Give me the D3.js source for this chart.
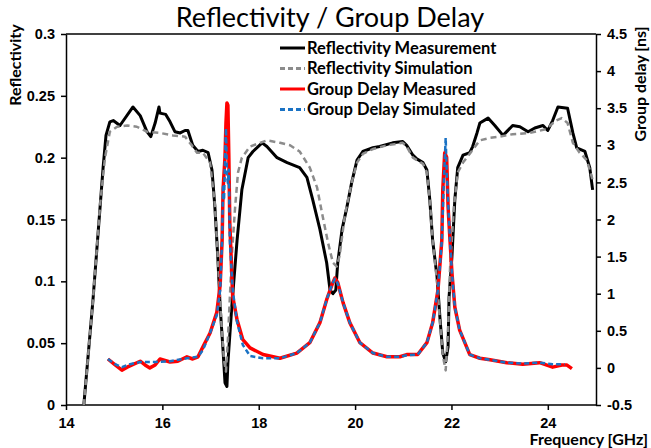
<!DOCTYPE html>
<html>
<head>
<meta charset="utf-8">
<script src="https://cdn.jsdelivr.net/npm/d3@7"></script>
<style>
  body { margin: 0; background: #fff; }
  svg { font-family: Lato, "Noto Sans", sans-serif; }
  .axis text { font-size: 14.5px; font-weight: bold; fill: #000; }
  .axis path, .axis line { stroke: #000; stroke-width: 1.5; }
</style>
</head>
<body>
<svg id="chart" width="651" height="448"></svg>
<script>
// reflectivity measurement [GHz, R]
const reflMeasured = [
  [14.37, 0], [14.56, 0.085], [14.77, 0.192], [14.83, 0.218], [14.91, 0.229], [14.98, 0.23],
  [15.12, 0.226], [15.39, 0.241], [15.54, 0.234], [15.68, 0.221], [15.76, 0.217], [15.85, 0.228],
  [15.93, 0.241], [15.95, 0.236], [16.07, 0.235], [16.16, 0.229], [16.26, 0.221], [16.37, 0.22],
  [16.47, 0.222], [16.53, 0.222], [16.63, 0.21], [16.74, 0.205], [16.84, 0.206], [16.95, 0.204],
  [17.03, 0.19], [17.09, 0.16], [17.15, 0.12], [17.2, 0.079], [17.26, 0.044], [17.3, 0.018],
  [17.34, 0.015], [17.36, 0.034], [17.44, 0.079], [17.55, 0.133], [17.65, 0.174], [17.78, 0.2],
  [17.88, 0.205], [18.07, 0.212], [18.17, 0.209], [18.38, 0.2], [18.59, 0.196], [18.85, 0.192],
  [19.0, 0.184], [19.12, 0.166], [19.27, 0.142], [19.41, 0.115], [19.48, 0.093], [19.54, 0.09],
  [19.6, 0.093], [19.64, 0.115], [19.73, 0.142], [19.83, 0.16], [19.93, 0.18], [20.04, 0.198],
  [20.16, 0.205], [20.37, 0.208], [20.51, 0.209], [20.78, 0.212], [20.99, 0.213], [21.07, 0.21],
  [21.2, 0.202], [21.28, 0.199], [21.41, 0.196], [21.49, 0.19], [21.55, 0.166], [21.61, 0.133],
  [21.7, 0.104], [21.76, 0.071], [21.82, 0.042], [21.88, 0.035], [21.93, 0.047], [21.95, 0.087],
  [22.01, 0.12], [22.07, 0.166], [22.13, 0.192], [22.24, 0.202], [22.38, 0.204], [22.44, 0.209],
  [22.53, 0.22], [22.59, 0.228], [22.76, 0.232], [22.9, 0.226], [23.07, 0.218], [23.27, 0.226],
  [23.42, 0.225], [23.59, 0.221], [23.73, 0.224], [23.9, 0.226], [24.0, 0.222], [24.1, 0.23],
  [24.21, 0.241], [24.41, 0.24], [24.52, 0.22], [24.6, 0.208], [24.77, 0.205], [24.87, 0.192],
  [24.93, 0.174]
];

// reflectivity simulation [GHz, R]
const reflSimulated = [
  [14.37, 0], [14.56, 0.085], [14.71, 0.163], [14.81, 0.2], [14.91, 0.221], [15.06, 0.225],
  [15.27, 0.226], [15.47, 0.225], [15.68, 0.221], [15.95, 0.22], [16.22, 0.218], [16.47, 0.217],
  [16.61, 0.21], [16.72, 0.204], [16.84, 0.204], [16.99, 0.196], [17.09, 0.162], [17.15, 0.12],
  [17.22, 0.069], [17.28, 0.036], [17.32, 0.027], [17.36, 0.053], [17.44, 0.12], [17.51, 0.16],
  [17.57, 0.188], [17.65, 0.2], [17.82, 0.209], [18.17, 0.214], [18.44, 0.212], [18.65, 0.21],
  [18.85, 0.205], [19.06, 0.192], [19.21, 0.176], [19.33, 0.152], [19.44, 0.131], [19.54, 0.115],
  [19.62, 0.112], [19.68, 0.121], [19.79, 0.154], [19.93, 0.18], [20.04, 0.196], [20.16, 0.203],
  [20.37, 0.207], [20.66, 0.21], [20.99, 0.212], [21.07, 0.209], [21.2, 0.2], [21.41, 0.195],
  [21.49, 0.188], [21.55, 0.166], [21.61, 0.133], [21.7, 0.1], [21.76, 0.068], [21.82, 0.04],
  [21.88, 0.028], [21.93, 0.06], [21.97, 0.11], [22.05, 0.16], [22.13, 0.188], [22.24, 0.196],
  [22.59, 0.214], [22.8, 0.216], [23.0, 0.217], [23.27, 0.219], [23.63, 0.22], [23.96, 0.223],
  [24.17, 0.23], [24.29, 0.232], [24.41, 0.228], [24.52, 0.212], [24.66, 0.204], [24.81, 0.198],
  [24.93, 0.182]
];

// group delay measured [GHz, ns]
const gdMeasured = [
  [14.87, 0.12], [15.02, 0.04], [15.16, -0.03], [15.27, 0.01], [15.54, 0.09], [15.64, 0.04],
  [15.74, 0.0], [15.85, 0.04], [15.95, 0.12], [16.16, 0.08], [16.32, 0.09], [16.51, 0.15],
  [16.63, 0.12], [16.74, 0.15], [16.84, 0.28], [16.99, 0.47], [17.13, 0.75], [17.2, 1.12],
  [17.24, 1.72], [17.26, 2.4], [17.3, 2.84], [17.32, 3.3], [17.34, 3.57], [17.36, 3.54],
  [17.38, 2.84], [17.4, 1.95], [17.44, 1.28], [17.46, 0.96], [17.55, 0.65], [17.67, 0.38],
  [17.82, 0.27], [18.09, 0.18], [18.44, 0.13], [18.79, 0.2], [19.06, 0.34], [19.27, 0.61],
  [19.41, 0.92], [19.52, 1.12], [19.58, 1.21], [19.64, 1.15], [19.75, 0.88], [19.89, 0.61],
  [20.1, 0.34], [20.37, 0.2], [20.66, 0.15], [20.93, 0.15], [21.07, 0.18], [21.3, 0.18],
  [21.49, 0.34], [21.61, 0.61], [21.72, 1.05], [21.8, 1.72], [21.82, 2.4], [21.86, 2.9],
  [21.9, 2.84], [21.93, 2.17], [21.97, 1.72], [22.01, 1.28], [22.07, 0.82], [22.17, 0.51],
  [22.38, 0.18], [22.59, 0.13], [22.8, 0.11], [23.15, 0.07], [23.48, 0.05], [23.83, 0.07],
  [24.1, 0.01], [24.29, 0.04], [24.39, 0.04], [24.5, -0.01]
];

// group delay simulated [GHz, ns]
const gdSimulated = [
  [14.87, 0.12], [15.02, 0.05], [15.16, 0.01], [15.33, 0.05], [15.54, 0.08], [15.85, 0.08],
  [16.16, 0.09], [16.51, 0.13], [16.74, 0.15], [16.84, 0.24], [16.99, 0.47], [17.13, 0.71],
  [17.2, 1.05], [17.24, 1.72], [17.26, 2.47], [17.28, 2.26], [17.3, 2.8], [17.32, 3.23],
  [17.34, 2.6], [17.36, 2.49], [17.38, 2.67], [17.4, 1.72], [17.46, 1.05], [17.55, 0.62],
  [17.67, 0.31], [17.82, 0.16], [18.09, 0.13], [18.44, 0.13], [18.79, 0.2], [19.06, 0.34],
  [19.27, 0.61], [19.41, 0.92], [19.52, 1.12], [19.58, 1.2], [19.64, 1.14], [19.75, 0.88],
  [19.89, 0.61], [20.1, 0.34], [20.37, 0.2], [20.66, 0.15], [20.93, 0.15], [21.07, 0.17],
  [21.3, 0.18], [21.49, 0.34], [21.61, 0.61], [21.72, 1.05], [21.8, 1.72], [21.84, 2.47],
  [21.88, 3.1], [21.9, 2.67], [21.93, 2.26], [21.97, 1.72], [22.01, 1.28], [22.07, 0.82],
  [22.17, 0.51], [22.38, 0.18], [22.59, 0.13], [22.8, 0.11], [23.15, 0.07], [23.48, 0.06],
  [23.83, 0.07], [24.1, 0.05], [24.35, 0.05]
];

const xTicks = [14, 16, 18, 20, 22, 24];
const leftTicks = [0, 0.05, 0.1, 0.15, 0.2, 0.25, 0.3];
const rightTicks = [-0.5, 0, 0.5, 1, 1.5, 2, 2.5, 3, 3.5, 4, 4.5];

const seriesNames = ["Reflectivity Measurement", "Reflectivity Simulation",
  "Group Delay Measured", "Group Delay Simulated"];

const svg = d3.select("svg#chart");
const margin = { top: 34, right: 55, bottom: 43, left: 66 };
const width = +svg.attr("width");
const height = +svg.attr("height");
const chartWidth = width - margin.left - margin.right;
const chartHeight = height - margin.top - margin.bottom;

const g = svg.append("g").attr("transform", `translate(${margin.left},${margin.top})`);

const x = d3.scaleLinear([14, 25], [0, chartWidth]);
const yL = d3.scaleLinear([0, 0.3], [chartHeight, 0]);
const yR = d3.scaleLinear([-0.5, 4.5], [chartHeight, 0]);

// frame top line
g.append("line")
  .attr("x1", 0).attr("x2", chartWidth)
  .attr("y1", 0).attr("y2", 0)
  .attr("stroke", "#000").attr("stroke-width", 1.5);

g.append("g").attr("class", "axis")
  .attr("transform", `translate(0,${chartHeight})`)
  .call(d3.axisBottom(x).tickValues(xTicks).tickSize(5).tickSizeOuter(0).tickPadding(8))
  .call(a => a.select(".domain").attr("d", `M0,0H${chartWidth}`));

g.append("g").attr("class", "axis")
  .call(d3.axisLeft(yL).tickValues(leftTicks).tickFormat(d => String(d)).tickSize(5).tickSizeOuter(0).tickPadding(6));

g.append("g").attr("class", "axis")
  .attr("transform", `translate(${chartWidth},0)`)
  .call(d3.axisRight(yR).tickValues(rightTicks).tickFormat(d => String(d)).tickSize(5).tickSizeOuter(0).tickPadding(6));

const lineL = d3.line(d => x(d[0]), d => yL(d[1]));
const lineR = d3.line(d => x(d[0]), d => yR(d[1]));

const styles = [
  { data: reflMeasured, gen: lineL, color: "#000000", w: 3, dash: null },
  { data: reflSimulated, gen: lineL, color: "#8c8c8c", w: 2.5, dash: "6,4" },
  { data: gdMeasured, gen: lineR, color: "#ff0000", w: 3.5, dash: null },
  { data: gdSimulated, gen: lineR, color: "#1a72c4", w: 2.5, dash: "5,3" }
];

styles.forEach(s => {
  g.append("path")
    .datum(s.data)
    .attr("fill", "none")
    .attr("stroke", s.color)
    .attr("stroke-width", s.w)
    .attr("stroke-linejoin", "round")
    .attr("stroke-dasharray", s.dash)
    .attr("d", s.gen);
});

// legend
const legend = svg.append("g").attr("transform", "translate(280,48)");
seriesNames.forEach((name, i) => {
  const row = legend.append("g").attr("transform", `translate(0,${i * 20.5})`);
  row.append("line")
    .attr("x1", 0).attr("x2", 25).attr("y1", 0).attr("y2", 0)
    .attr("stroke", styles[i].color)
    .attr("stroke-width", 3)
    .attr("stroke-dasharray", styles[i].dash ? "5,3" : null);
  row.append("text")
    .attr("x", 27).attr("y", 5.5)
    .attr("font-size", 16.5).attr("font-weight", "bold")
    .text(name);
});

// title and axis labels
svg.append("text")
  .attr("x", 330).attr("y", 27)
  .attr("text-anchor", "middle")
  .attr("font-size", 27)
  .text("Reflectivity / Group Delay");

svg.append("text")
  .attr("transform", "translate(21,65) rotate(-90)")
  .attr("text-anchor", "middle")
  .attr("font-size", 16).attr("font-weight", "bold")
  .text("Reflectivity");

svg.append("text")
  .attr("transform", "translate(646,84) rotate(-90)")
  .attr("text-anchor", "middle")
  .attr("font-size", 16).attr("font-weight", "bold")
  .text("Group delay [ns]");

svg.append("text")
  .attr("x", 648).attr("y", 445)
  .attr("text-anchor", "end")
  .attr("font-size", 16).attr("font-weight", "bold")
  .text("Frequency [GHz]");
</script>
</body>
</html>
